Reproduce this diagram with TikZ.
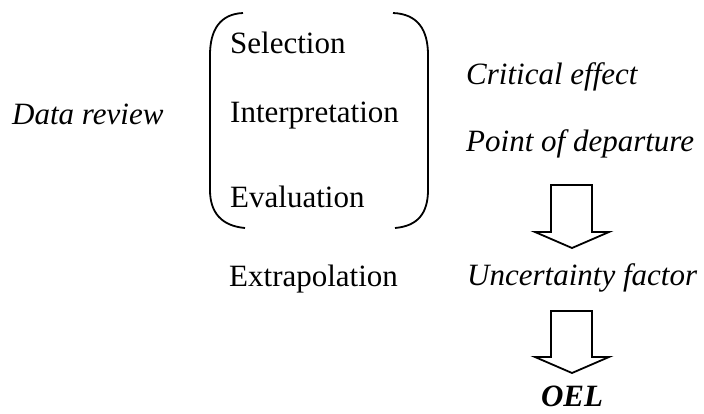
\documentclass[tikz,border=0pt]{standalone}
\usepackage{fontspec}
\setmainfont{Liberation Serif}
\begin{document}
\begin{tikzpicture}[x=1pt,y=-1pt,
  lbl/.style={inner sep=0pt,anchor=base west,font=\fontsize{31}{36}\selectfont},
  ilbl/.style={lbl,font=\fontsize{31}{36}\selectfont\itshape},
  shape line/.style={line width=1.8pt,line join=miter}]
\useasboundingbox (0,0) rectangle (704,413);
% texts
\node[ilbl] (review) at (12,124) {Data review};
\node[lbl] (sel) at (230,53) {Selection};
\node[lbl] (interp) at (230,122) {Interpretation};
\node[lbl] (eval) at (230,207) {Evaluation};
\node[lbl] (extra) at (229,286) {Extrapolation};
\node[ilbl] (crit) at (466,84) {Critical effect};
\node[ilbl] (pod) at (466,151) {Point of departure};
\node[ilbl] (uf) at (467,285) {Uncertainty factor};
\node[lbl,anchor=base,font=\fontsize{31}{36}\selectfont\bfseries\itshape] (oel) at (572,406) {OEL};
% brackets
\draw[shape line] (243,13) .. controls (220,14) and (210,30) .. (210,55) -- (210,190) .. controls (210,213) and (222,226) .. (245,228);
\draw[shape line] (393,13) .. controls (418,14) and (428,30) .. (428,55) -- (428,190) .. controls (428,213) and (418,226) .. (395,228);
% block arrows
\draw[shape line] (551,185) -- (592,185) -- (592,232) -- (609,232) -- (572,248) -- (535,232) -- (551,232) -- cycle;
\draw[shape line] (551,311) -- (592,311) -- (592,357) -- (609,357) -- (572,373) -- (535,357) -- (551,357) -- cycle;
\end{tikzpicture}
\end{document}
